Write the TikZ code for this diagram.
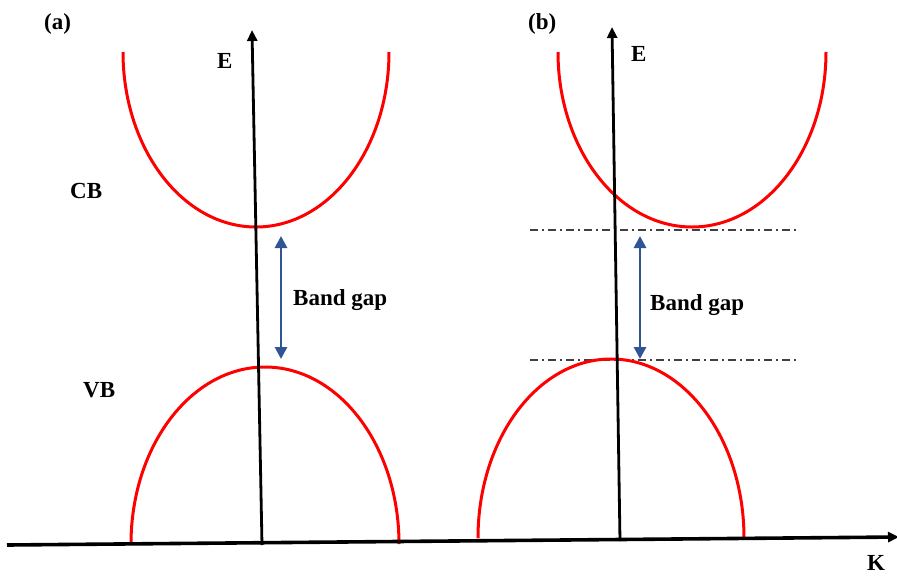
\documentclass[tikz,border=0pt]{standalone}
\usepackage{fontspec}
\setmainfont{Liberation Serif}
\usetikzlibrary{arrows.meta}
\definecolor{bandred}{RGB}{255,0,0}
\definecolor{gapblue}{RGB}{47,85,151}
\definecolor{levelgray}{RGB}{64,64,64}

\begin{document}
\begin{tikzpicture}[x=1pt, y=-1pt, >={Triangle[width=10pt,length=11pt]},
	band/.style={bandred, line width=3pt},
	axisline/.style={line width=2.8pt, ->},
	gap/.style={gapblue, line width=2.8pt, {Triangle[width=12pt,length=12pt]}-{Triangle[width=12pt,length=12pt]}},
	level/.style={levelgray, line width=1.6pt, dash pattern=on 8pt off 4pt on 2pt off 4pt},
	lbl/.style={font=\bfseries\fontsize{23}{27}\selectfont, inner sep=0pt, anchor=base west}]
	\useasboundingbox (0,0) rectangle (897,576);
	% levels of panel (b)
	\coordinate (cbtop) at (530,230);
	\coordinate (cbend) at (798,230);
	\coordinate (vbtop) at (530,360);
	\coordinate (vbend) at (798,360);
	\draw[level] (cbtop) -- (cbend);
	\draw[level] (vbtop) -- (vbend);
	% bands
	\draw[band] (123,52) arc[start angle=180, end angle=360, x radius=133pt, y radius=175pt];
	\draw[band] (131,544) arc[start angle=180, end angle=0, x radius=134pt, y radius=177pt];
	\draw[band] (558,52) arc[start angle=180, end angle=360, x radius=134pt, y radius=175pt];
	\draw[band] (478,538) arc[start angle=180, end angle=0, x radius=133pt, y radius=179pt];
	% axes
	\coordinate (ka) at (7,545);
	\coordinate (kb) at (899,537);
	\coordinate (ea0) at (262,545);
	\coordinate (ea1) at (252,30);
	\coordinate (eb0) at (620,541);
	\coordinate (eb1) at (612,27);
	\draw[axisline] (ea0) -- (ea1);
	\draw[axisline] (eb0) -- (eb1);
	\draw[axisline, line width=3.6pt] (ka) -- (kb);
	% gaps
	\coordinate (ga0) at (281,236);
	\coordinate (ga1) at (281,359);
	\coordinate (gb0) at (640,236);
	\coordinate (gb1) at (640,359);
	\draw[gap] (ga0) -- (ga1);
	\draw[gap] (gb0) -- (gb1);
	% labels
	\node[lbl] (pa) at (44,29) {(a)};
	\node[lbl] (pb) at (528,29) {(b)};
	\node[lbl] (ealbl) at (217,68) {E};
	\node[lbl] (eblbl) at (631,61) {E};
	\node[lbl] (cb) at (70,198) {CB};
	\node[lbl] (vb) at (83,397) {VB};
	\node[lbl] (klbl) at (867,570) {K};
	\node[lbl] (gapa) at (293,305) {Band gap};
	\node[lbl] (gapb) at (650,310) {Band gap};
\end{tikzpicture}
\end{document}
